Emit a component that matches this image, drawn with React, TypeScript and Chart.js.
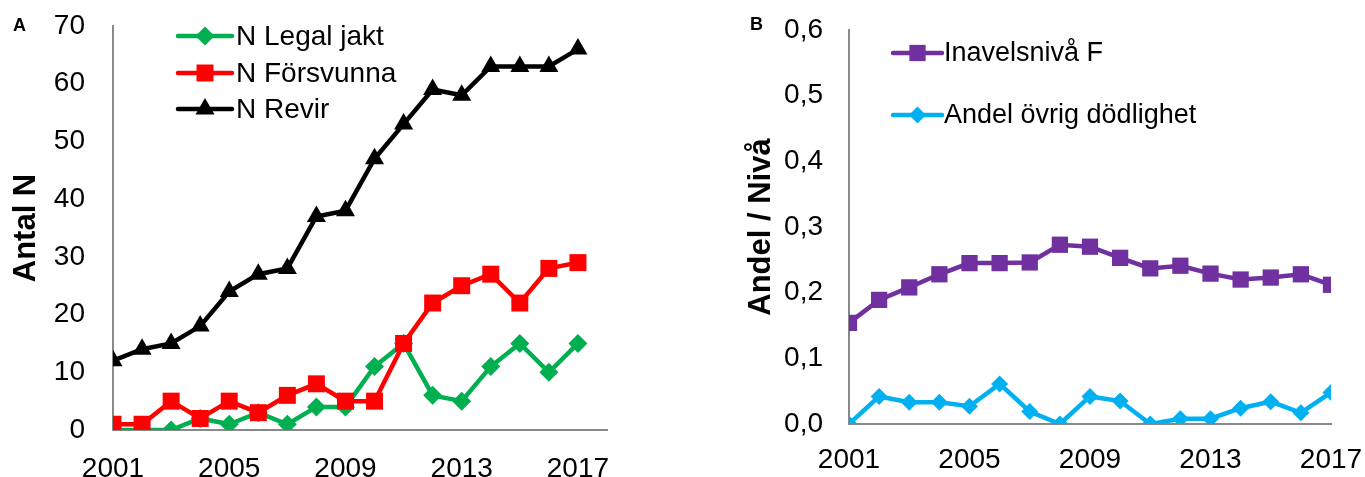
import React, { useEffect, useRef } from 'react';
import { Chart, registerables } from 'chart.js';

Chart.register(...registerables);

// ---- Data ----
const years = [2001, 2002, 2003, 2004, 2005, 2006, 2007, 2008, 2009, 2010, 2011, 2012, 2013, 2014, 2015, 2016, 2017];
const xTickYears = [2001, 2005, 2009, 2013, 2017];

const legalJakt = [0, 0, 0, 2, 1, 3, 1, 4, 4, 11, 15, 6, 5, 11, 15, 10, 15];
const forsvunna = [1, 1, 5, 2, 5, 3, 6, 8, 5, 5, 15, 22, 25, 27, 22, 28, 29];
const revir = [12, 14, 15, 18, 24, 27, 28, 37, 38, 47, 53, 59, 58, 63, 63, 63, 66];

const inavelsniva = [0.154, 0.189, 0.208, 0.228, 0.245, 0.245, 0.246, 0.273, 0.27, 0.253, 0.237, 0.241, 0.229, 0.22, 0.223, 0.228, 0.212];
const ovrigDodlighet = [0, 0.042, 0.033, 0.033, 0.027, 0.061, 0.019, 0, 0.042, 0.035, 0, 0.008, 0.008, 0.024, 0.034, 0.017, 0.048];

const labelsA = ['N Legal jakt', 'N Försvunna', 'N Revir'];
const labelsB = ['Inavelsnivå F', 'Andel övrig dödlighet'];

const FONT = "'Liberation Sans', Arial, Helvetica, sans-serif";
const AXIS_GRAY = '#898989';
const GREEN = '#00B050';
const RED = '#FF0000';
const BLACK = '#000000';
const PURPLE = '#7030A0';
const CYAN = '#00B0F0';

const pts = (vals: number[]) => vals.map((v, i) => ({ x: years[i], y: v }));

function drawMarker(ctx: CanvasRenderingContext2D, style: string, x: number, y: number, r: number) {
  ctx.beginPath();
  if (style === 'rect') {
    const s = Math.SQRT1_2 * r;
    ctx.rect(x - s, y - s, 2 * s, 2 * s);
  } else if (style === 'rectRot') {
    ctx.moveTo(x, y - r);
    ctx.lineTo(x + r, y);
    ctx.lineTo(x, y + r);
    ctx.lineTo(x - r, y);
    ctx.closePath();
  } else if (style === 'triangle') {
    for (let k = 0; k < 3; k++) {
      const a = (k * 2 * Math.PI) / 3;
      const px = x + Math.sin(a) * r;
      const py = y - Math.cos(a) * r;
      if (k === 0) ctx.moveTo(px, py);
      else ctx.lineTo(px, py);
    }
    ctx.closePath();
  }
  ctx.fill();
}

const overlayPlugin = {
  id: 'overlay',
  afterDraw(chart: any, _args: any, opts: any) {
    const ctx: CanvasRenderingContext2D = chart.ctx;
    ctx.save();
    // panel letter
    ctx.font = `bold ${opts.letterSize}px ${FONT}`;
    ctx.fillStyle = '#000';
    ctx.textAlign = 'left';
    ctx.textBaseline = 'middle';
    ctx.fillText(opts.letter, opts.letterX, opts.letterY);
    // legend
    const items = opts.items as any[];
    items.forEach((it: any, i: number) => {
      const y = opts.rows[i];
      ctx.strokeStyle = it.color;
      ctx.fillStyle = it.color;
      ctx.lineWidth = 4.5;
      ctx.lineCap = 'round';
      ctx.beginPath();
      ctx.moveTo(opts.lineX0, y);
      ctx.lineTo(opts.lineX1, y);
      ctx.stroke();
      drawMarker(ctx, it.style, (opts.lineX0 + opts.lineX1) / 2, y, it.radius);
      ctx.fillStyle = '#000';
      ctx.font = `${opts.fontSize}px ${FONT}`;
      ctx.textBaseline = 'middle';
      ctx.fillText(it.label, opts.textX, y + 1);
    });
    ctx.restore();
  },
};

function makeLineDs(label: string, data: number[], color: string, style: string, radius: number) {
  return {
    label,
    data: pts(data),
    borderColor: color,
    backgroundColor: color,
    borderWidth: 4.5,
    pointStyle: style,
    pointRadius: radius,
    pointHoverRadius: radius,
    pointBorderWidth: 0,
    pointBackgroundColor: color,
    tension: 0,
    fill: false,
  };
}

function buildConfig(p: any) {
  return {
    type: 'line',
    data: { datasets: p.datasets },
    plugins: [overlayPlugin],
    options: {
      responsive: false,
      animation: false,
      events: [],
      layout: { padding: { top: p.padTop, right: p.padRight, left: 0, bottom: 0 } },
      plugins: {
        legend: { display: false },
        tooltip: { enabled: false },
        overlay: p.overlay,
      },
      scales: {
        x: {
          type: 'linear',
          min: 2001,
          max: p.xMax,
          grid: { display: false, drawTicks: false },
          border: { display: true, color: AXIS_GRAY, width: 2 },
          ticks: {
            color: '#000',
            font: { size: 28, family: FONT },
            padding: p.xTickPad,
            maxRotation: 0,
            autoSkip: false,
            callback: (v: any) => String(v),
          },
          afterBuildTicks: (scale: any) => {
            scale.ticks = xTickYears.map((v) => ({ value: v }));
          },
          afterFit: (scale: any) => {
            scale.height = p.xHeight;
            scale.paddingLeft = 0;
            scale.paddingRight = 0;
          },
        },
        y: {
          type: 'linear',
          min: 0,
          max: p.yMax,
          grid: { display: false, drawTicks: false },
          border: { display: true, color: AXIS_GRAY, width: 2 },
          ticks: {
            color: '#000',
            font: { size: 28, family: FONT },
            padding: p.yTickPad,
            stepSize: p.yStep,
            callback: p.yFmt,
          },
          title: {
            display: true,
            text: p.yTitle,
            color: '#000',
            font: { size: 31, weight: 'bold', family: FONT },
            padding: { top: p.titlePad, bottom: 0 },
          },
          afterFit: (scale: any) => {
            scale.width = p.yWidth;
            scale.paddingTop = 0;
            scale.paddingBottom = 0;
          },
        },
      },
    },
  };
}

function ChartCanvas({ config, width, height, left }: any) {
  const ref = useRef<HTMLCanvasElement | null>(null);
  useEffect(() => {
    if (!ref.current) return;
    const chart = new Chart(ref.current, config);
    return () => chart.destroy();
  }, []);
  return (
    <div style={{ position: 'absolute', left, top: 0, width, height }}>
      <canvas ref={ref} width={width} height={height} style={{ display: 'block', width, height }} />
    </div>
  );
}

export default function App() {
  Chart.defaults.font.family = FONT;

  const configA = buildConfig({
    datasets: [
      makeLineDs(labelsA[2], revir, BLACK, 'triangle', 11),
      makeLineDs(labelsA[1], forsvunna, RED, 'rect', 12),
      makeLineDs(labelsA[0], legalJakt, GREEN, 'rectRot', 9.5),
    ],
    padTop: 26,
    padRight: 33,
    xMax: 2018,
    xTickPad: 22,
    xHeight: 47,
    yMax: 70,
    yStep: 10,
    yFmt: (v: any) => String(v),
    yTickPad: 28,
    yWidth: 113,
    yTitle: 'Antal N',
    titlePad: 8,
    overlay: {
      letter: 'A',
      letterSize: 18,
      letterX: 13,
      letterY: 26,
      lineX0: 178,
      lineX1: 232,
      textX: 236,
      fontSize: 28,
      rows: [36, 73, 109],
      items: [
        { label: labelsA[0], color: GREEN, style: 'rectRot', radius: 9.5 },
        { label: labelsA[1], color: RED, style: 'rect', radius: 12 },
        { label: labelsA[2], color: BLACK, style: 'triangle', radius: 11 },
      ],
    },
  });

  const configB = buildConfig({
    datasets: [
      makeLineDs(labelsB[0], inavelsniva, PURPLE, 'rect', 11.5),
      makeLineDs(labelsB[1], ovrigDodlighet, CYAN, 'rectRot', 8.5),
    ],
    padTop: 30,
    padRight: 34,
    xMax: 2017,
    xTickPad: 19,
    xHeight: 53,
    yMax: 0.6,
    yStep: 0.1,
    yFmt: (v: any) => Number(v).toFixed(1).replace('.', ','),
    yTickPad: 26,
    yWidth: 109,
    yTitle: 'Andel / Nivå',
    titlePad: 3,
    overlay: {
      letter: 'B',
      letterSize: 18,
      letterX: 10,
      letterY: 25,
      lineX0: 153,
      lineX1: 202,
      textX: 204,
      fontSize: 27,
      rows: [53, 115],
      items: [
        { label: labelsB[0], color: PURPLE, style: 'rect', radius: 11.5 },
        { label: labelsB[1], color: CYAN, style: 'rectRot', radius: 8.5 },
      ],
    },
  });

  return (
    <div style={{ position: 'absolute', left: 0, top: 0, width: 1365, height: 477, background: '#fff', overflow: 'hidden' }}>
      <ChartCanvas config={configA} width={640} height={477} left={0} />
      <ChartCanvas config={configB} width={625} height={477} left={740} />
    </div>
  );
}
